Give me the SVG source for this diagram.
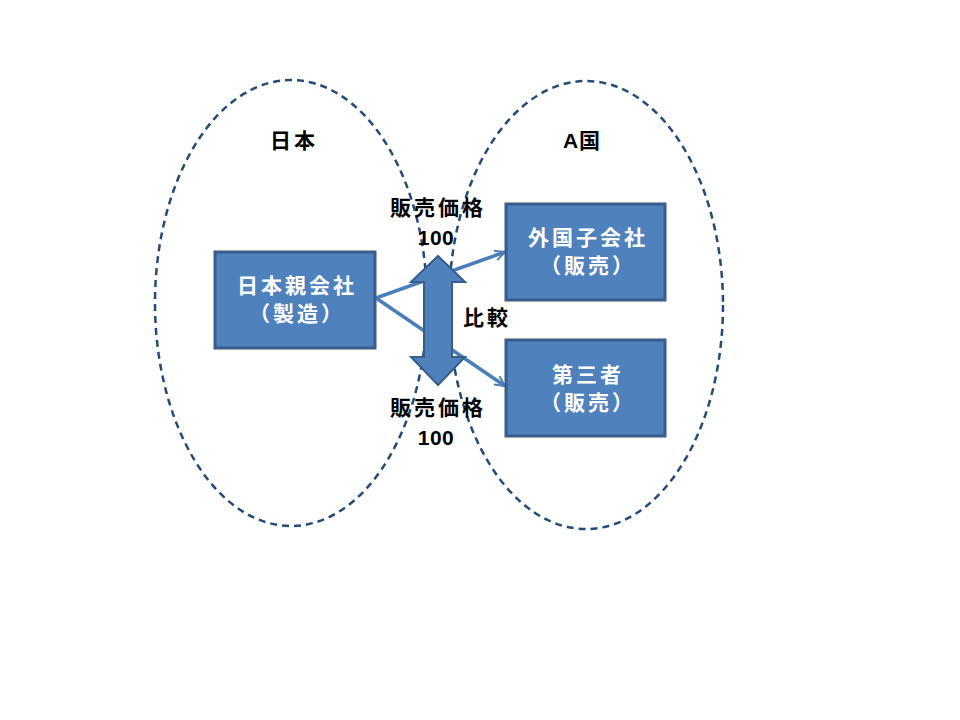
<svg xmlns="http://www.w3.org/2000/svg" width="960" height="720" viewBox="0 0 960 720">
<style>
.reg{fill:none;stroke:#254a7a;stroke-width:2.5;stroke-dasharray:7 5}
.box{fill:#4f81bd;stroke:#385d8a;stroke-width:3}
.bt{font-family:"Liberation Sans","Noto Sans CJK JP",sans-serif;font-weight:bold;font-size:21px;letter-spacing:3px;fill:#ffffff;text-anchor:middle}
.lt{font-family:"Liberation Sans","Noto Sans CJK JP",sans-serif;font-weight:bold;font-size:21px;letter-spacing:3px;fill:#000000;text-anchor:middle}
.num{letter-spacing:0.5px}
.conn{fill:none;stroke:#4a7ebb;stroke-width:3.5}
</style>
<defs>
<marker id="open" viewBox="0 0 12 12" refX="11" refY="6" markerWidth="12" markerHeight="12" markerUnits="userSpaceOnUse" orient="auto">
<path d="M1,1 L11,6 L1,11" fill="none" stroke="#4a7ebb" stroke-width="2"/>
</marker>
</defs>
<rect width="960" height="720" fill="#ffffff"/>
<g id="region-japan">
<ellipse class="reg" cx="291" cy="303" rx="136" ry="223"/>
<text class="lt" x="294" y="148">日本</text>
</g>
<g id="region-a">
<ellipse class="reg" cx="586" cy="305" rx="137" ry="224"/>
<text class="lt" x="582" y="148" style="letter-spacing:1px">A国</text>
</g>
<g id="connectors">
<line class="conn" x1="376" y1="298" x2="505" y2="252" marker-end="url(#open)"/>
<line class="conn" x1="376" y1="298" x2="505" y2="386" marker-end="url(#open)"/>
<path d="M438,256 L465,282 L452,282 L452,357 L465,357 L438,385 L411,357 L424,357 L424,282 L411,282 Z" fill="#4f81bd" stroke="#385d8a" stroke-width="2"/>
<text class="lt" x="438" y="215">販売価格</text>
<text class="lt num" x="436" y="245">100</text>
<text class="lt" x="487" y="325">比較</text>
<text class="lt" x="438" y="415">販売価格</text>
<text class="lt num" x="436" y="445">100</text>
</g>
<g id="parent">
<rect class="box" x="215" y="252" width="160" height="96"/>
<text class="bt" x="297" y="293">日本親会社</text>
<text class="bt" x="297" y="321">（製造）</text>
</g>
<g id="subsidiary">
<rect class="box" x="506" y="204" width="159" height="96"/>
<text class="bt" x="588" y="245">外国子会社</text>
<text class="bt" x="588" y="273">（販売）</text>
</g>
<g id="third">
<rect class="box" x="506" y="340" width="159" height="96"/>
<text class="bt" x="588" y="382">第三者</text>
<text class="bt" x="588" y="410">（販売）</text>
</g>
</svg>
